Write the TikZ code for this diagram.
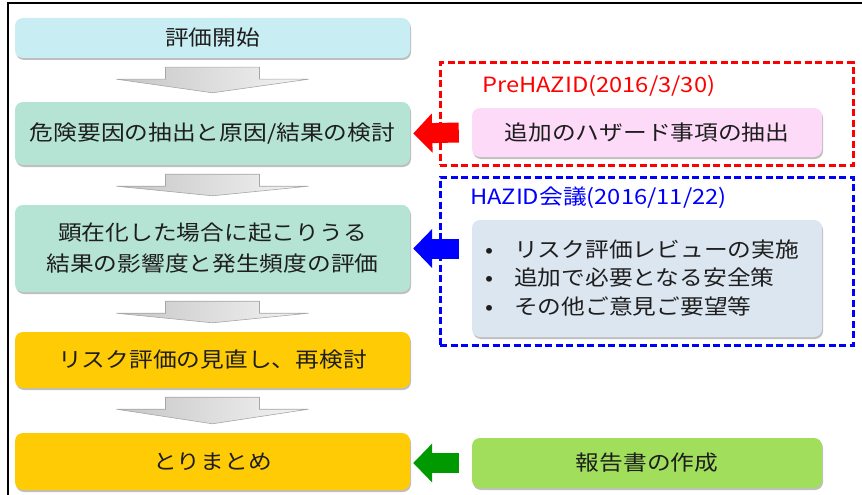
\documentclass[tikz,border=0pt]{standalone}
\usepackage{fontspec}
\setmainfont{Noto Sans CJK JP}[FakeStretch=1.13]
\usetikzlibrary{calc,shadows,arrows.meta}
\definecolor{cstart}{HTML}{C8EDF2}
\definecolor{cmint}{HTML}{B5E3D4}
\definecolor{cyel}{HTML}{FFCB05}
\definecolor{cpink}{HTML}{FDDAF8}
\definecolor{cblu}{HTML}{DCE6F0}
\definecolor{cgrn}{HTML}{A0DE5C}
\definecolor{ctext}{HTML}{1E1E1E}
\definecolor{cgarrow}{HTML}{009A00}
\tikzset{
  stepbox/.style={rounded corners=8pt, minimum width=395pt, inner sep=0pt,
    text=ctext, font=\fontsize{21}{31}\selectfont, align=center,
    drop shadow={shadow xshift=1pt, shadow yshift=-2pt, opacity=0.25, fill=black}},
  sidebox/.style={stepbox, minimum width=350pt},
  grayarr/.style={left color=gray!45, right color=gray!8, draw=gray!70, line width=0.6pt},
  dashbox/.style={draw, dash pattern=on 7pt off 3.5pt, line width=3pt, minimum width=413pt, inner sep=0pt},
  blockarr/.style={line width=20pt, -{Triangle[length=19pt,width=38pt]}},
  lbl/.style={anchor=west, inner sep=0pt, font=\fontsize{21}{26}\selectfont}
}
\newcommand\grayarrow[2]{%
  \path[grayarr] let \p1=(#1.south), \p2=(#2.north) in
  (\x1-47pt,\y1-9pt) -- (\x1+47pt,\y1-9pt) -- (\x1+47pt,\y1-21pt) -- (\x1+96pt,\y1-21pt)
  -- (\x1,\y2+9pt) -- (\x1-96pt,\y1-21pt) -- (\x1-47pt,\y1-21pt) -- cycle;}
\begin{document}
\begin{tikzpicture}[x=1pt,y=-1pt]
\useasboundingbox (0,0) rectangle (862,495);
\draw[line width=1.5pt] (8,495) -- (8,3) -- (862,3);

% left column
\node[stepbox, fill=cstart, minimum height=40pt] (start) at (212.5,38) {評価開始};
\node[stepbox, fill=cmint, minimum height=63pt] (hz) at (212.5,133.5) {危険要因の抽出と原因/結果の検討};
\node[stepbox, fill=cmint, minimum height=87pt] (ev) at (212.5,248.5) {顕在化した場合に起こりうる\\結果の影響度と発生頻度の評価};
\node[stepbox, fill=cyel, minimum height=56pt] (rv) at (212.5,360) {リスク評価の見直し、再検討};
\node[stepbox, fill=cyel, minimum height=57pt] (sm) at (212.5,461.5) {とりまとめ};

\grayarrow{start}{hz}
\grayarrow{hz}{ev}
\grayarrow{ev}{rv}
\grayarrow{rv}{sm}

% right column
\node[dashbox, draw=red, minimum height=102pt] (redgrp) at (646.5,114) {};
\node[lbl, text=red] (redlbl) at (482,86) {PreHAZID(2016/3/30)};
\node[sidebox, fill=cpink, minimum height=49pt] (pink) at (647,132.5) {追加のハザード事項の抽出};

\node[dashbox, draw=blue, minimum height=168pt] (bluegrp) at (646.5,261) {};
\node[lbl, text=blue] (bluelbl) at (470,198) {HAZID会議(2016/11/22)};
\node[sidebox, fill=cblu, minimum height=117pt] (blu) at (647,278.5) {};
\node[anchor=west, inner sep=0pt, text=ctext, font=\fontsize{21}{26}\selectfont] (list) at (485,280)
  {\renewcommand\arraystretch{1.1}\begin{tabular}{@{}l@{\hspace{21pt}}l@{}}
   • & リスク評価レビューの実施\\
   • & 追加で必要となる安全策\\
   • & その他ご意見ご要望等
   \end{tabular}};

\node[sidebox, fill=cgrn, minimum height=50pt] (grn) at (647,463) {報告書の作成};

\draw[blockarr, red] ([xshift=-13pt]pink.west) -- ([xshift=3pt]hz.east);
\draw[blockarr, blue] ([xshift=-13pt]blu.west |- ev.east) -- ([xshift=3pt]ev.east);
\draw[blockarr, cgarrow] ([xshift=-13pt]grn.west) -- ([xshift=3pt]grn.west -| sm.east);
\end{tikzpicture}
\end{document}
